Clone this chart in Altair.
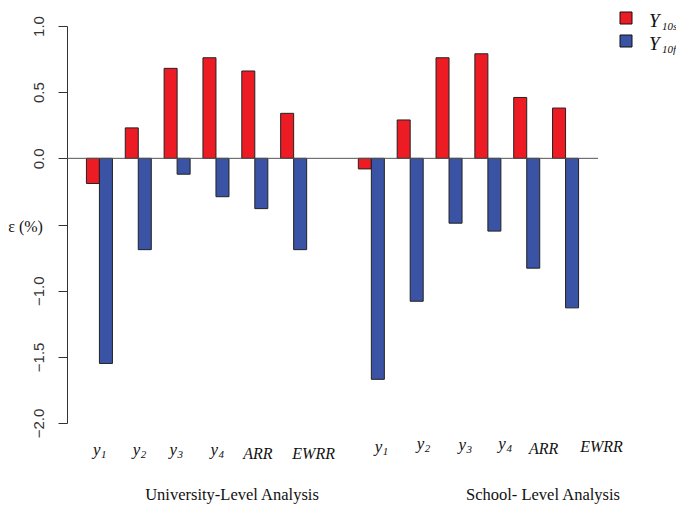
import altair as alt
import pandas as pd

# Relative error of the two ten-year estimates, by variable and analysis level
categories = ["y1", "y2", "y3", "y4", "ARR", "EWRR"]
series_names = ["Y10s", "Y10f"]
university_y10s = [-0.19, 0.23, 0.68, 0.76, 0.66, 0.34]
university_y10f = [-1.55, -0.69, -0.12, -0.29, -0.38, -0.69]
school_y10s = [-0.08, 0.29, 0.76, 0.79, 0.46, 0.38]
school_y10f = [-1.67, -1.08, -0.49, -0.55, -0.83, -1.13]
y_ticks = [1.0, 0.5, 0.0, -0.5, -1.0, -1.5, -2.0]
level_titles = ["University-Level Analysis", "School- Level Analysis"]

RED = "#ED1C24"
BLUE = "#3A53A4"
INK = "#111111"
SERIF = "Liberation Serif, Times New Roman, serif"
SANS = "Liberation Sans, Arial, sans-serif"

uni_slots = ["U-" + c for c in categories]
sch_slots = ["S-" + c for c in categories]
slot_order = uni_slots + ["gap"] + sch_slots

rows = []
for slots, s_vals, f_vals in [
    (uni_slots, university_y10s, university_y10f),
    (sch_slots, school_y10s, school_y10f),
]:
    for slot, vs, vf in zip(slots, s_vals, f_vals):
        rows.append({"slot": slot, "series": series_names[0], "value": vs})
        rows.append({"slot": slot, "series": series_names[1], "value": vf})
bars_df = pd.DataFrame(rows)

x_enc = alt.X(
    "slot:N",
    scale=alt.Scale(domain=slot_order, paddingInner=0.33, paddingOuter=0.5),
    axis=None,
)

y_axis = alt.Axis(
    values=y_ticks,
    labelExpr="datum.value == -0.5 ? '' : format(datum.value, '.1f')",
    labelAngle=270,
    labelAlign="center",
    labelBaseline="bottom",
    labelFont=SANS,
    labelFontSize=15,
    labelColor="#333333",
    labelPadding=12,
    tickSize=9,
    tickColor="#333333",
    domainColor="#333333",
    grid=False,
    title="ε (%)",
    titleAngle=0,
    titleX=-42,
    titleY=200,
    titleAlign="center",
    titleBaseline="middle",
    titleFont=SERIF,
    titleFontSize=16,
    titleFontWeight="normal",
    titleColor=INK,
)

bars = (
    alt.Chart(bars_df)
    .mark_bar(stroke="#222222", strokeWidth=1)
    .encode(
        x=x_enc,
        xOffset=alt.XOffset("series:N", scale=alt.Scale(domain=series_names)),
        y=alt.Y("value:Q", scale=alt.Scale(domain=[-2, 1], nice=False), axis=y_axis),
        color=alt.Color(
            "series:N",
            scale=alt.Scale(domain=series_names, range=[RED, BLUE]),
            legend=None,
        ),
    )
)

zero_line = (
    alt.Chart(pd.DataFrame({"v": [0.0]}))
    .mark_rule(color="#555555", strokeWidth=1)
    .encode(y="v:Q")
)

layers = [bars, zero_line]

# Category labels under each group (italic, with subscript digits).
# Per-label horizontal nudge and text baseline, in pixels.
label_dx = {"U": [0, 1, -1, 1, 3, 20], "S": [10, 13, 16, 17, 17, 36]}
label_base = {"U": [429, 429, 429, 429, 433, 433], "S": [426, 423, 424, 423, 428, 426]}

for level, slots in [("U", uni_slots), ("S", sch_slots)]:
    for i, (slot, cat) in enumerate(zip(slots, categories)):
        dx = label_dx[level][i]
        ypos = label_base[level][i]
        one = pd.DataFrame({"slot": [slot], "base": [cat[0]], "sub": [cat[1:]], "word": [cat]})
        if cat.startswith("y"):
            layers.append(
                alt.Chart(one)
                .mark_text(font=SERIF, fontStyle="italic", fontSize=17, color=INK,
                           align="right", baseline="alphabetic", dx=dx + 1)
                .encode(x="slot:N", y=alt.value(ypos), text="base:N")
            )
            layers.append(
                alt.Chart(one)
                .mark_text(font=SERIF, fontStyle="italic", fontSize=11, color=INK,
                           align="left", baseline="alphabetic", dx=dx + 1.5, dy=3)
                .encode(x="slot:N", y=alt.value(ypos), text="sub:N")
            )
        else:
            layers.append(
                alt.Chart(one)
                .mark_text(font=SERIF, fontStyle="italic", fontSize=16, color=INK,
                           align="center", baseline="alphabetic", dx=dx)
                .encode(x="slot:N", y=alt.value(ypos), text="word:N")
            )

# level titles
for title, xpos in zip(level_titles, [165, 476]):
    layers.append(
        alt.Chart(pd.DataFrame({"t": [title]}))
        .mark_text(font=SERIF, fontSize=16.5, color=INK, baseline="alphabetic")
        .encode(x=alt.value(xpos), y=alt.value(474), text="t:N")
    )

# legend: filled squares with italic Y and subscript
for name, color, ypos in [(series_names[0], RED, -8), (series_names[1], BLUE, 15)]:
    layers.append(
        alt.Chart(pd.DataFrame({"s": [name]}))
        .mark_square(size=144, fill=color, stroke=INK, strokeWidth=1, opacity=1)
        .encode(x=alt.value(559), y=alt.value(ypos))
    )
    layers.append(
        alt.Chart(pd.DataFrame({"s": ["Y"]}))
        .mark_text(font=SERIF, fontStyle="italic", fontSize=19, color=INK,
                   align="left", baseline="alphabetic")
        .encode(x=alt.value(582), y=alt.value(ypos + 9), text="s:N")
    )
    layers.append(
        alt.Chart(pd.DataFrame({"s": [name[1:]]}))
        .mark_text(font=SERIF, fontStyle="italic", fontSize=11, color=INK,
                   align="left", baseline="alphabetic")
        .encode(x=alt.value(595), y=alt.value(ypos + 12), text="s:N")
    )

chart = (
    alt.layer(*layers)
    .properties(
        width=531,
        height=397,
        padding={"left": 67, "top": 26, "right": 78, "bottom": 82},
        autosize=alt.AutoSizeParams(type="none"),
        background="white",
    )
    .configure_view(stroke=None)
)

chart.save("out.html", embed_options={"renderer": "svg", "actions": False})
